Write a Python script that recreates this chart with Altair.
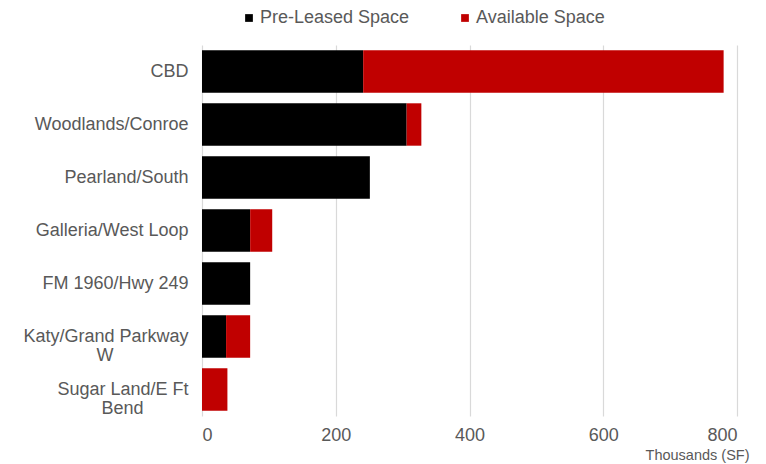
import altair as alt
import pandas as pd

categories = ["CBD", "Woodlands/Conroe", "Pearland/South", "Galleria/West Loop",
              "FM 1960/Hwy 249", "Katy/Grand Parkway W", "Sugar Land/E Ft Bend"]
pre_leased = [241, 306, 251, 72, 72, 36, 0]
available = [539, 22, 0, 33, 0, 36, 38]
series = ["Pre-Leased Space", "Available Space"]
colors = ["#000000", "#C00000"]

rows = []
for c, p, a in zip(categories, pre_leased, available):
    rows.append({"cat": c, "series": series[0], "value": p, "ord": 0})
    rows.append({"cat": c, "series": series[1], "value": a, "ord": 1})
df = pd.DataFrame(rows)

nb = "\u00a0"
zw = "\u200b"
label_expr = (
    "datum.label == 'Katy/Grand Parkway W' ? ['Katy/Grand Parkway', 'W" + nb * 15 + zw + "'] : "
    "datum.label == 'Sugar Land/E Ft Bend' ? ['Sugar Land/E Ft', 'Bend" + nb * 9 + zw + "'] : datum.label"
)

FONT = "Liberation Sans"
GREY = "#595959"

chart = alt.Chart(df).mark_bar().encode(
    y=alt.Y("cat:N", sort=categories,
            scale=alt.Scale(paddingInner=0.2, paddingOuter=0.1),
            axis=alt.Axis(title=None, ticks=False, domain=False, labelPadding=14,
                          labelFont=FONT, labelFontSize=18, labelColor=GREY,
                          labelExpr=label_expr, labelLineHeight=19, labelLimit=300)),
    x=alt.X("value:Q", stack="zero",
            scale=alt.Scale(domain=[0, 800], nice=False),
            axis=alt.Axis(values=[0, 200, 400, 600, 800], ticks=False, domain=False,
                          grid=True, gridColor="#d9d9d9", gridWidth=1.2,
                          labelFont=FONT, labelFontSize=18, labelColor=GREY, labelPadding=10,
                          title="Thousands (SF)", titleFont=FONT, titleFontSize=14.5,
                          titleFontWeight="normal", titleColor=GREY,
                          titleAnchor="end", titleAlign="right", titleBaseline="alphabetic",
                          titleX=547, titleY=43)),
    color=alt.Color("series:N", sort=series,
                    scale=alt.Scale(domain=series, range=colors),
                    legend=alt.Legend(title=None, orient="none", direction="horizontal",
                                      legendX=38, legendY=-36,
                                      symbolType="square", symbolSize=60,
                                      symbolStrokeWidth=0,
                                      labelFont=FONT, labelFontSize=18, labelColor=GREY,
                                      labelOffset=2, columnPadding=46)),
    order=alt.Order("ord:Q"),
).properties(
    width=535, height=371,
    padding={"left": 202, "top": 45, "right": 29, "bottom": 48},
    autosize=alt.AutoSizeParams(type="none"),
).configure_view(stroke=None)

chart.save("out.html", embed_options={"renderer": "svg", "actions": False})
